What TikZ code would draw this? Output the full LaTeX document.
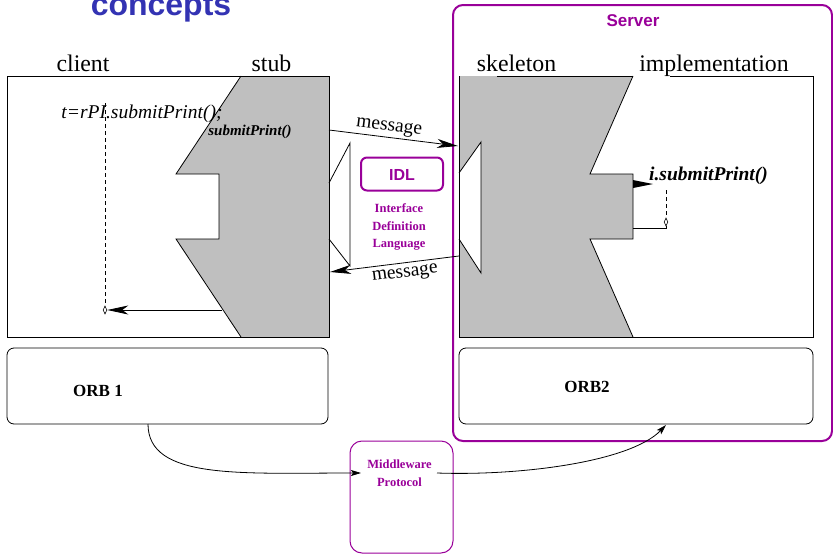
\documentclass[tikz,border=0pt]{standalone}
\usepackage{fontspec}
\setmainfont{Liberation Serif}
\newfontfamily\headfont{Liberation Sans}
\usetikzlibrary{arrows.meta,shapes.geometric}
\definecolor{titleblue}{RGB}{51,51,179}
\definecolor{mauve}{RGB}{153,0,153}
\definecolor{plug}{RGB}{191,191,191}

\begin{document}
\begin{tikzpicture}[x=1pt,y=-1pt,
  line/.style={draw=black, line width=0.8pt},
  roles/.style={font=\fontsize{23.8}{26}\selectfont, inner sep=0pt, anchor=base},
  call/.style={font=\fontsize{19.5}{22}\selectfont\itshape, inner sep=0pt, anchor=base},
  bcall/.style={font=\fontsize{15}{18}\selectfont\bfseries\itshape, inner sep=0pt, anchor=base},
  orb/.style={draw=black, line width=0.8pt, rounded corners=7pt},
  orbtext/.style={font=\fontsize{17}{19}\selectfont\bfseries, inner sep=0pt, anchor=base},
  mnote/.style={font=\fontsize{12.5}{17.5}\selectfont\bfseries, text=mauve, inner sep=0pt, anchor=base},
  msg/.style={line, -{Stealth[length=21pt,width=9pt,inset=6pt]}},
  small/.style={line, -{Stealth[length=10pt,width=6pt,inset=2pt]}},
  msgtext/.style={font=\fontsize{19.5}{22}\selectfont, inner sep=0pt},
  ret/.style={draw=black, line width=0.7pt, dash pattern=on 4pt off 3pt},
  dia/.style={draw=black, fill=white, line width=0.6pt, diamond, minimum width=4pt, minimum height=8pt, inner sep=0pt}
]
\useasboundingbox (0,0) rectangle (833,554);

% heading (runs off the top edge)
\node[font=\headfont\bfseries\fontsize{32}{36}\selectfont, text=titleblue, inner sep=0pt, anchor=base] (title) at (161,15) {concepts};

% server frame
\draw[mauve, line width=2pt, rounded corners=10pt] (453,5) rectangle (832,441);
\node[font=\headfont\bfseries\fontsize{17}{20}\selectfont, text=mauve, inner sep=0pt, anchor=base] (server) at (633,27) {Server};

% client side: stub shape with its plug, then the client frame
\fill[plug] (241,76) -- (329,76) -- (329,337) -- (241,337) -- (176,239) -- (219,239) -- (219,174) -- (176,174) -- cycle;
\draw[line, line join=miter] (241,76) -- (176,174) -- (219,174) -- (219,239) -- (176,239) -- (241,337);
\draw[line, line join=miter] (329,183) -- (350,143) -- (350,266) -- (329,239);
\draw[line] (7,76) rectangle (329,337);

% server side: skeleton shape with its socket, then the implementation frame
\fill[plug] (459,76) -- (633,76) -- (590,174) -- (633,174) -- (633,239) -- (590,239) -- (633,337) -- (459,337) -- (459,239) -- (481,273) -- (481,142) -- (459,173) -- cycle;
\draw[line, line join=miter] (633,76) -- (590,174) -- (633,174) -- (633,239) -- (590,239) -- (633,337);
\draw[line, line join=miter] (459,239) -- (481,273) -- (481,142) -- (459,173);
\draw[line] (497,76) -- (633,76);
\draw[line] (670,76) -- (813,76) -- (813,337) -- (459,337) -- (459,76);

% role labels
\node[roles] (client) at (83,71) {client};
\node[roles] (stub) at (271.5,71) {stub};
\node[roles] (skeleton) at (516.5,71) {skeleton};
\node[roles] (impl) at (714,71) {implementation};

% client call
\node[call] (invoke) at (142,118) {t=rPI.submitPrint();};
\node[bcall] (stubcall) at (250,135) {submitPrint()};
\coordinate (waittop) at (105,103);
\node[dia] (waitend) at (105,310) {};
\draw[ret] (waittop) -- (waitend.north);
\coordinate (stubret) at (222,310);
\draw[msg] (stubret) -- (waitend.east);

% messages between stub and skeleton
\coordinate (reqfrom) at (329,130);
\coordinate (reqto) at (458,146);
\draw[msg] (reqfrom) -- (reqto);
\node[msgtext, rotate=-7] (reqlbl) at (389,128) {message};
\coordinate (repfrom) at (459,256);
\coordinate (repto) at (330,272);
\draw[msg] (repfrom) -- (repto);
\node[msgtext, rotate=7] (replbl) at (405,274) {message};

% IDL
\node[draw=mauve, line width=2pt, rounded corners=6pt, minimum width=82pt, minimum height=33pt, inner sep=0pt] (idl) at (402,174) {};
\node[font=\headfont\bfseries\fontsize{16}{19}\selectfont, text=mauve, inner sep=0pt, anchor=base] (idltext) at (402,180) {IDL};
\node[mnote] (idl1) at (399,212) {Interface};
\node[mnote] (idl2) at (399,230) {Definition};
\node[mnote] (idl3) at (399,247) {Language};

% implementation call
\coordinate (skelout) at (633,184);
\coordinate (skeltip) at (653,184);
\fill[black] (633,180) -- (653,184) -- (633,188) -- cycle;
\node[font=\fontsize{19.5}{22}\selectfont\bfseries\itshape, inner sep=0pt, anchor=base] (implcall) at (708.5,180) {i.submitPrint()};
\coordinate (runtop) at (666,190);
\node[dia] (runend) at (666,222) {};
\draw[ret] (runtop) -- (runend.north);
\coordinate (skelin) at (633,228);
\draw[line] (runend.south) |- (skelin);

% ORBs
\draw[orb] (7,348) rectangle (328,424);
\node[orbtext] (orb1) at (98,396) {ORB 1};
\draw[orb] (459,348) rectangle (813,424);
\node[orbtext] (orb2) at (587,392) {ORB2};

% middleware protocol
\draw[mauve, line width=1pt, rounded corners=12pt] (350,441) rectangle (453,553);
\node[mnote] (mw1) at (399.5,468) {Middleware};
\node[mnote] (mw2) at (399.5,486) {Protocol};
\coordinate (orb1out) at (148,424);
\coordinate (mwin) at (361,473);
\coordinate (mwout) at (437,473);
\coordinate (orb2in) at (666,425);
\draw[small] (orb1out) .. controls (148,480) and (240,473) .. (mwin);
\draw[small] (mwout) .. controls (520,476) and (630,462) .. (orb2in);
\end{tikzpicture}
\end{document}
